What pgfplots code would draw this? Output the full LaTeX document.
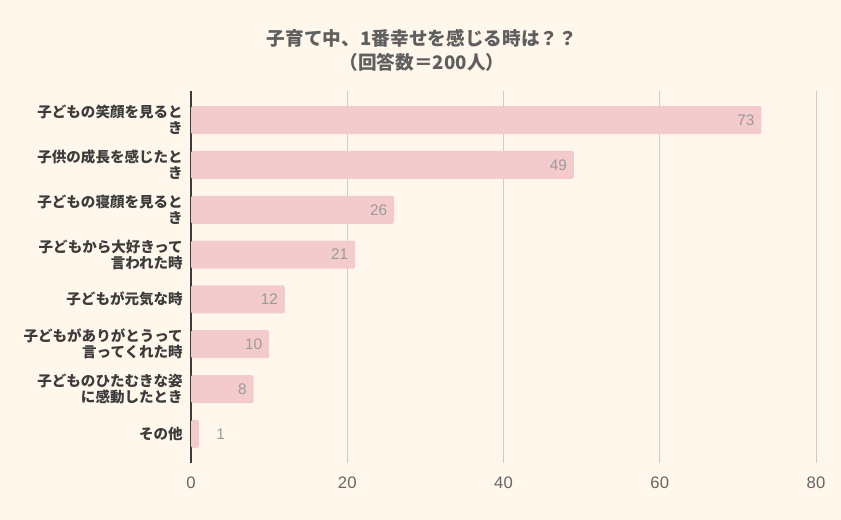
\documentclass[border=0pt]{standalone}
\usepackage{fontspec}
\setmainfont{Liberation Sans}
\newfontfamily\cjk{Noto Sans CJK JP}
\usepackage{pgfplots}
\pgfplotsset{compat=1.18}
\definecolor{bg}{HTML}{FFF7EB}
\definecolor{barc}{HTML}{F4CBCC}
\definecolor{titlec}{HTML}{5F5F5F}
\definecolor{labc}{HTML}{3C3C3C}
\definecolor{valc}{HTML}{9A9A9A}
\definecolor{tickc}{HTML}{666666}
\definecolor{gridc}{HTML}{CCCCCC}
\begin{document}
\begin{tikzpicture}
\useasboundingbox (0,0) rectangle (630.75pt,390pt);
\fill[bg] (0,0) rectangle (630.75pt,390pt);
\node[align=center, text=titlec, font=\cjk\bfseries\fontsize{14}{18}\selectfont] at (316.5pt,352pt) {子育て中、1番幸せを感じる時は？？\\（回答数＝200人）};
\begin{axis}[
  at={(143.25pt,42.75pt)}, anchor=south west,
  scale only axis, width=468.75pt, height=279pt,
  xmin=0, xmax=80, ymin=-0.65, ymax=7.65, y dir=reverse,
  axis lines*=left,
  x axis line style={draw=none},
  y axis line style={draw=labc, line width=0.8pt},
  xtick={0,20,40,60,80}, ytick={0,...,7},
  major tick length=0pt,
  xmajorgrids, grid style={draw=gridc, line width=0.6pt},
  /pgf/number format/assume math mode=true,
  xticklabel style={font=\fontsize{12.5}{14}\selectfont, text=tickc, inner sep=0pt, yshift=-10.5pt},
  yticklabel style={font=\cjk\bfseries\fontsize{10.9}{12}\selectfont, text=labc, align=right, inner sep=0pt, xshift=-6pt},
  yticklabels={{子どもの笑顔を見ると\\き},{子供の成長を感じたと\\き},{子どもの寝顔を見ると\\き},{子どもから大好きって\\言われた時},{子どもが元気な時},{子どもがありがとうって\\言ってくれた時},{子どものひたむきな姿\\に感動したとき},{その他}},
  xbar, bar width=21pt, bar shift=0pt,
  nodes near coords,
  nodes near coords style={font=\fontsize{11.5}{13}\selectfont, text=valc, inner sep=0pt},
]
\addplot[fill=barc, draw=none, rounded corners=1.5pt, nodes near coords style={anchor=east, xshift=-5pt}] coordinates {(73,0) (49,1) (26,2) (21,3) (12,4) (10,5) (8,6)};
\addplot[fill=barc, draw=none, rounded corners=1.5pt, nodes near coords style={anchor=west, xshift=13pt}] coordinates {(1,7)};
\end{axis}
\end{tikzpicture}
\end{document}
